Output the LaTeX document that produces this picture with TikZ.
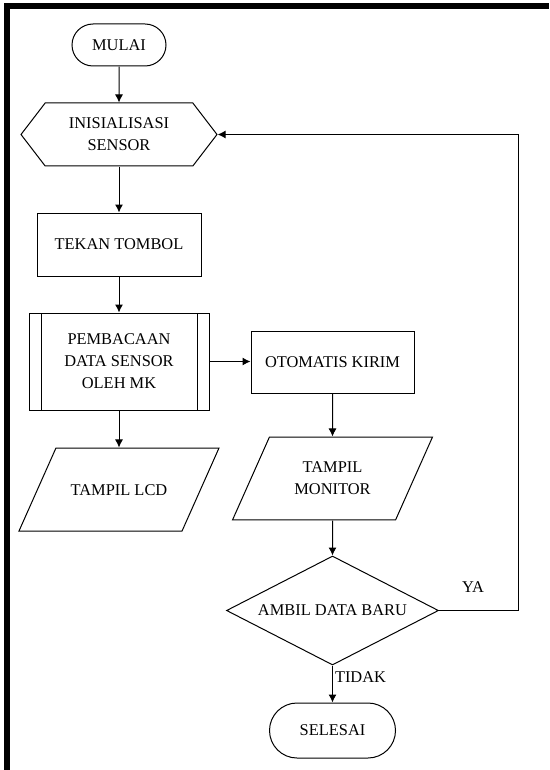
\documentclass[tikz,border=0pt]{standalone}
\usepackage{fontspec}
\setmainfont{Liberation Serif}
\usetikzlibrary{arrows.meta,shapes.geometric,shapes.misc,shapes.symbols}

\begin{document}
\begin{tikzpicture}[x=1pt,y=-1pt,
    font=\fontsize{16.4}{22}\selectfont,
    every node/.style={align=center,inner sep=2pt},
    base/.style={draw,line width=1pt},
    terminal/.style={base,rounded rectangle},
    proses/.style={base,rectangle},
    subproses/.style={base,rectangle,path picture={
        \draw[line width=1pt] ([xshift=12pt]path picture bounding box.north west)
            -- ([xshift=12pt]path picture bounding box.south west);
        \draw[line width=1pt] ([xshift=-12pt]path picture bounding box.north east)
            -- ([xshift=-12pt]path picture bounding box.south east);}},
    persiapan/.style={base,signal,signal to=west and east,signal pointer angle=105},
    io/.style={base,trapezium,trapezium left angle=66,trapezium right angle=114,
        trapezium stretches body=true,minimum width=200},
    keputusan/.style={base,diamond,aspect=1.95,inner sep=0pt},
    panah/.style={line width=1pt,-{Latex[length=8pt,width=8pt]}}]

    \useasboundingbox (0,0) rectangle (549,770);
    % bingkai
    \fill (4,3) rectangle (549,9);
    \fill (4,3) rectangle (10,770);

    \node[terminal,minimum width=98,minimum height=42] (mulai) at (119,45) {MULAI};
    \node[persiapan,minimum width=196,minimum height=63] (init) at (119,134.5) {INISIALISASI\\SENSOR};
    \node[proses,minimum width=164,minimum height=63] (tekan) at (119,244.5) {TEKAN TOMBOL};
    \node[subproses,minimum width=180,minimum height=97] (baca) at (119,361.5) {PEMBACAAN\\DATA SENSOR\\OLEH MK};
    \node[io,inner ysep=36pt,text height=11pt,text depth=0pt] (lcd) at (119,489.5) {TAMPIL LCD};
    \node[proses,minimum width=163,minimum height=62] (kirim) at (332.5,362) {OTOMATIS KIRIM};
    \node[io,inner ysep=25pt] (monitor) at (332.5,478.5) {TAMPIL\\MONITOR};
    \node[keputusan,minimum width=212,minimum height=109] (ambil) at (332.5,610.5) {AMBIL DATA BARU};
    \node[terminal,minimum width=130,minimum height=55] (selesai) at (332.5,730.5) {SELESAI};
    \node (ya) at (473,587) {YA};
    \coordinate (balik) at (518,610.5);

    \draw[panah] (mulai) -- (init);
    \draw[panah] (init) -- (tekan);
    \draw[panah] (tekan) -- (baca);
    \draw[panah] (baca) -- (lcd);
    \draw[panah] (baca.east) -- (baca.east -| kirim.west);
    \draw[panah] (kirim) -- (monitor);
    \draw[panah] (monitor) -- (ambil);
    \draw[panah] (ambil) -- node[pos=0.3,anchor=west] (tidak) {TIDAK} (selesai);
    \draw[panah] (ambil.east) -- (balik) |- (init.east);
\end{tikzpicture}
\end{document}
